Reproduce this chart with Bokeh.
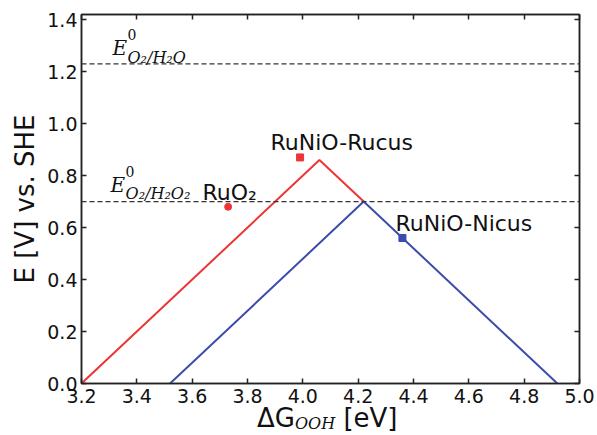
from bokeh.plotting import figure
from bokeh.layouts import column
from bokeh.models import (Label, Span, LinearAxis, FixedTicker, Range1d, Div,
                          NumeralTickFormatter, CustomJSTickFormatter)
from bokeh.embed import file_html
from bokeh.resources import INLINE

# ---- data ----
x_ticks = [3.2, 3.4, 3.6, 3.8, 4.0, 4.2, 4.4, 4.6, 4.8, 5.0]
y_ticks = [0.0, 0.2, 0.4, 0.6, 0.8, 1.0, 1.2, 1.4]

rucus_line_x = [3.20, 4.06, 4.22]
rucus_line_y = [0.00, 0.86, 0.70]
nicus_line_x = [3.52, 4.22, 4.92]
nicus_line_y = [0.00, 0.70, 0.00]

rucus_pt_x = [3.99]
rucus_pt_y = [0.87]
ruo2_pt_x = [3.73]
ruo2_pt_y = [0.68]
nicus_pt_x = [4.36]
nicus_pt_y = [0.56]

e_h2o = 1.23
e_h2o2 = 0.70

RED = "#ec3636"
BLUE = "#3c4caa"

p = figure(width=597, height=408, x_range=Range1d(3.2, 5.0), y_range=Range1d(0, 1.42),
           output_backend="svg", toolbar_location=None,
           min_border_left=81, min_border_right=18, min_border_top=14, min_border_bottom=25)
p.grid.visible = False
p.outline_line_color = "#222222"
p.outline_line_width = 1.5
p.background_fill_color = "white"
p.border_fill_color = "white"

def style_axis(ax):
    ax.axis_line_color = "#222222"
    ax.axis_line_width = 1.5
    ax.major_tick_in = 5
    ax.major_tick_out = 0
    ax.major_tick_line_color = "#222222"
    ax.major_tick_line_width = 1.5
    ax.minor_tick_line_color = None
    ax.major_label_text_font = "DejaVu Sans"
    ax.major_label_text_font_size = "19px"
    ax.major_label_text_color = "#111111"
    ax.major_label_standoff = 4

p.xaxis.ticker = FixedTicker(ticks=x_ticks)
p.yaxis.ticker = FixedTicker(ticks=y_ticks)
p.xaxis.formatter = NumeralTickFormatter(format="0.0")
p.yaxis.formatter = NumeralTickFormatter(format="0.0")
style_axis(p.xaxis[0])
style_axis(p.yaxis[0])
p.xaxis.major_label_standoff = 5

p.yaxis.axis_label = "E [V] vs. SHE"
p.yaxis.axis_label_text_font = "DejaVu Sans"
p.yaxis.axis_label_text_font_size = "26px"
p.yaxis.axis_label_text_font_style = "normal"
p.yaxis.axis_label_text_color = "#111111"
p.yaxis.axis_label_standoff = 4

blank = CustomJSTickFormatter(code="return ''")
ax_top = LinearAxis(ticker=FixedTicker(ticks=x_ticks), formatter=blank)
ax_right = LinearAxis(ticker=FixedTicker(ticks=y_ticks), formatter=blank)
for ax in (ax_top, ax_right):
    style_axis(ax)
    ax.major_label_standoff = 0
    ax.major_label_text_font_size = "1px"
p.add_layout(ax_top, "above")
p.add_layout(ax_right, "right")

# reference lines
for loc in (e_h2o, e_h2o2):
    p.add_layout(Span(location=loc, dimension="width", line_color="#333333",
                      line_width=1.2, line_dash="5 3"))

p.line(rucus_line_x, rucus_line_y, line_color=RED, line_width=2)
p.line(nicus_line_x, nicus_line_y, line_color=BLUE, line_width=2)

p.scatter(rucus_pt_x, rucus_pt_y, marker="square", size=7, color=RED)
p.scatter(ruo2_pt_x, ruo2_pt_y, marker="circle", size=7, color=RED)
p.scatter(nicus_pt_x, nicus_pt_y, marker="square", size=7, color=BLUE)

def lab(x, y, text, size, font="DejaVu Sans", style="normal", dx=0, dy=0):
    p.add_layout(Label(x=x, y=y, text=text, x_offset=dx, y_offset=dy,
                       text_font=font, text_font_size=size, text_font_style=style,
                       text_color="#111111", text_baseline="alphabetic", text_align="left"))

lab(3.883, 0.928, "RuNiO-Rucus", "22px")
lab(4.335, 0.617, "RuNiO-Nicus", "22px")
lab(3.637, 0.736, "RuO₂", "22px")

SERIF = "DejaVu Serif"
# E0 O2/H2O
lab(3.312, 1.29, "E", "20px", SERIF, "italic")
lab(3.312, 1.29, "0", "14px", SERIF, "normal", dx=15, dy=14)
lab(3.312, 1.29, "O₂/H₂O", "16px", SERIF, "italic", dx=15, dy=-9)
# E0 O2/H2O2
lab(3.305, 0.763, "E", "20px", SERIF, "italic")
lab(3.305, 0.763, "0", "14px", SERIF, "normal", dx=15, dy=14)
lab(3.305, 0.763, "O₂/H₂O₂", "16px", SERIF, "italic", dx=15, dy=-8)

# x-axis label (ΔG_OOH [eV]) as real HTML text below the plot
xlabel = Div(
    text=('<span style="font-family:\'DejaVu Sans\'; font-size:26px; color:#111111; '
          'white-space:nowrap; line-height:24px; position:relative; top:-2px;">ΔG'
          '<span style="font-family:\'DejaVu Serif\'; font-style:italic; font-size:16px; '
          'position:relative; top:2px;">OOH</span> [eV]</span>'),
    width=597, height=27, margin=0,
    styles={"padding-left": "257px", "line-height": "24px", "overflow": "visible"},
)

layout = column(p, xlabel, spacing=0)
open("out.html", "w").write(file_html(layout, INLINE))
